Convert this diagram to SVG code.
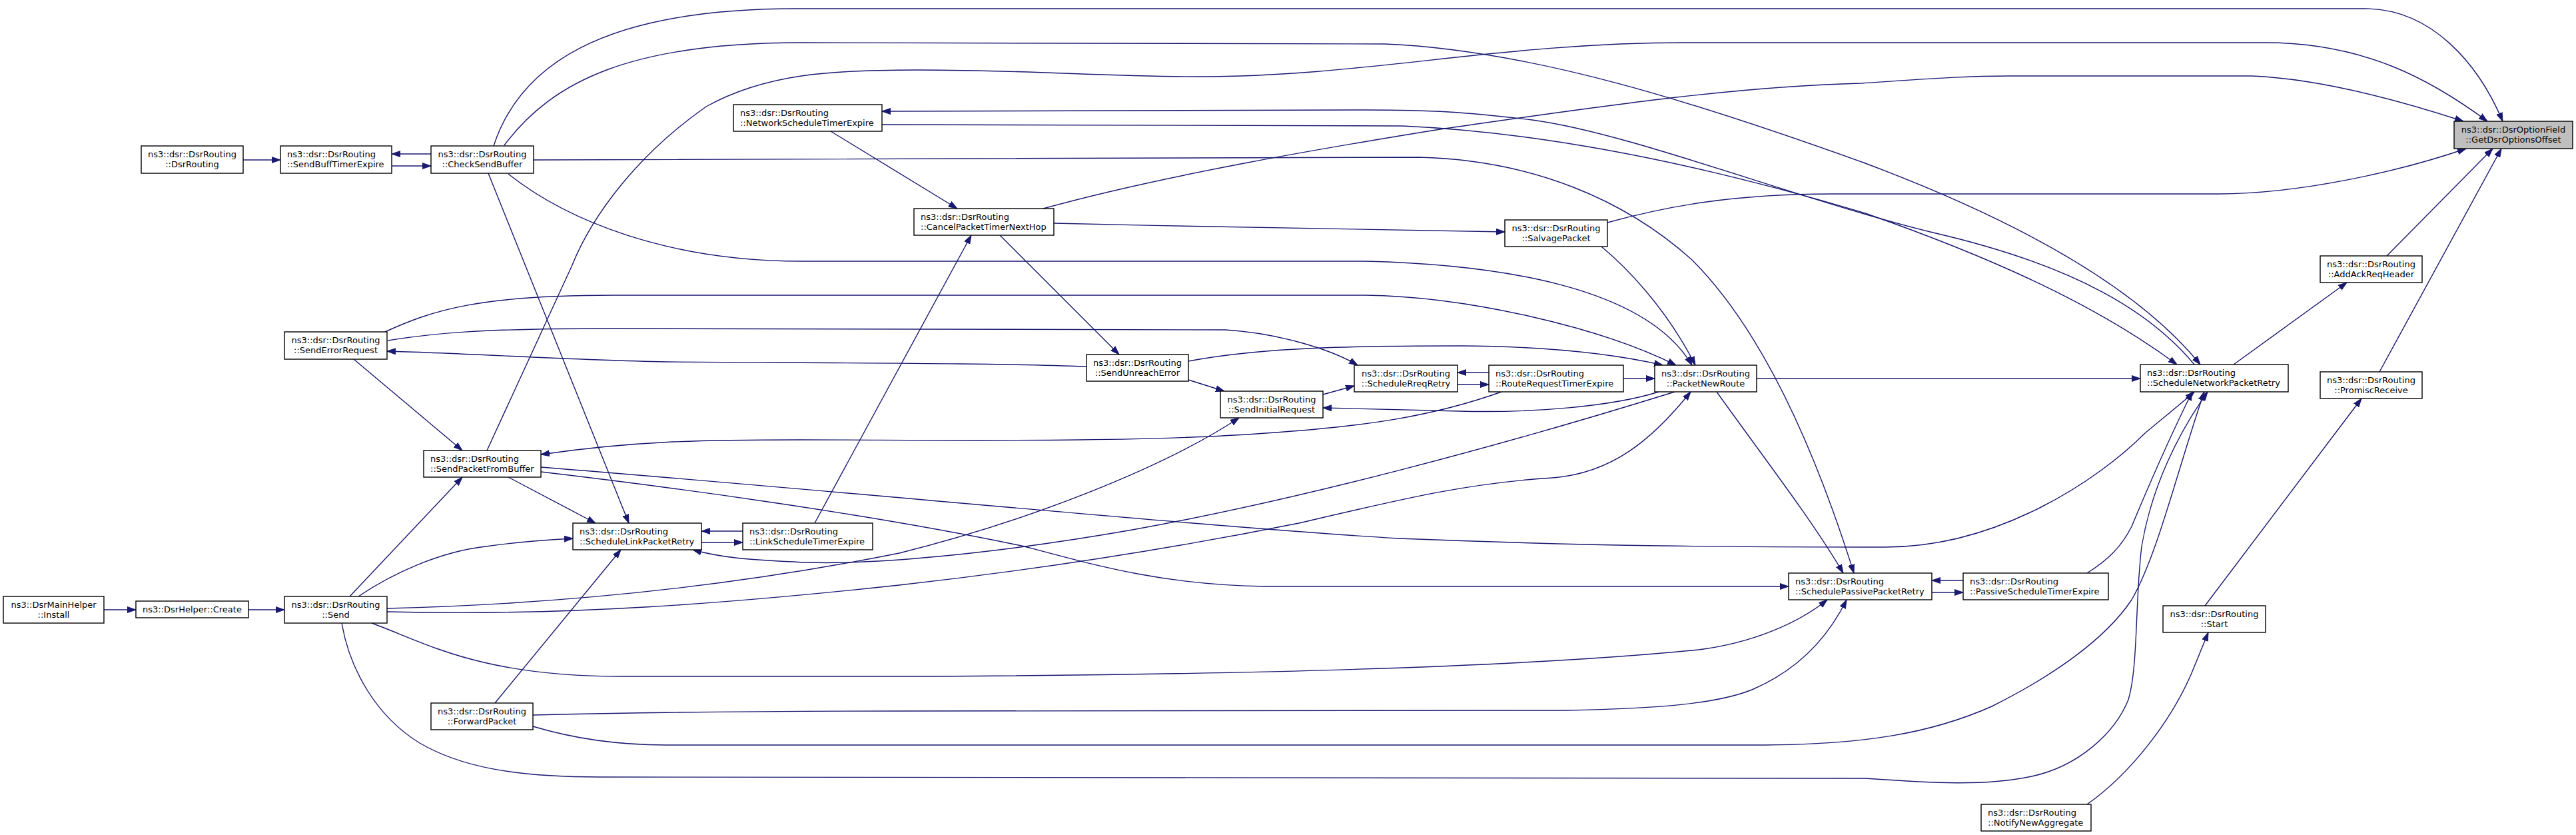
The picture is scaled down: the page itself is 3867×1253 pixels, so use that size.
<svg xmlns="http://www.w3.org/2000/svg" width="3867" height="1253" viewBox="0 0 3867 1253">
<style>
.nd rect{fill:#ffffff;stroke:#000000;stroke-width:1.4}
.nd.root rect{fill:#bfbfbf}
.nd text{font-family:"DejaVu Sans","Liberation Sans",sans-serif;font-size:13px;fill:#000000}
.c{text-anchor:middle}
.l{text-anchor:start}
#edges path{fill:none;stroke:#191970;stroke-width:1.4;marker-end:url(#ah)}
</style>
<defs>
<marker id="ah" viewBox="0 0 14 10" refX="13" refY="5" markerWidth="14" markerHeight="10" markerUnits="userSpaceOnUse" orient="auto">
<path d="M0,0.5 L13,5 L0,9.5 z" fill="#191970" stroke="#191970" stroke-width="1"/>
</marker>
</defs>
<rect width="3867" height="1253" fill="#ffffff"/>
<g id="edges">
<!-- into root -->
<path d="M741,219 C780,100 900,13 1196,13 L3550,13 C3650,13 3720,95 3757,182"/>
<path d="M731,676 L858,400 C890,320 960,230 1060,160 C1150,110 1250,105 1377,105 C1550,105 1650,115 1800,115 C2050,115 2250,64 2530,64 L3400,64 C3550,64 3650,120 3734,182"/>
<path d="M1566,313 C1750,262 2000,220 2168,193 C2400,160 2600,130 2793,125 C2900,118 2950,114 3016,114 L3380,114 C3480,118 3600,150 3698,182"/>
<path d="M2413,334 C2500,310 2600,291 2750,291 L3330,291 C3450,291 3600,258 3702,223"/>
<path d="M3583,384 L3742,223"/>
<path d="M3572,558 L3755,223"/>
<!-- upper right -->
<path d="M3353,547 L3523,424"/>
<path d="M3310,909 L3545,598"/>
<path d="M3133,1207 C3200,1160 3260,1080 3290,1010 L3315,949"/>
<!-- into SNPR -->
<path d="M757,218 C830,120 950,64 1204,64 L2079,66 C2300,75 2550,155 2800,245 C3000,320 3200,420 3303,547"/>
<path d="M1324,187 L2105,189 C2350,200 2600,260 2800,320 C3000,390 3150,460 3268,547"/>
<path d="M3294,547 C3230,470 3120,400 2906,350 C2700,300 2450,200 2300,180 C2200,168 2150,165 2050,165 L1324,167"/>
<path d="M2637,568 L3213,568"/>
<path d="M3133,860 C3165,840 3185,820 3200,790 C3225,730 3260,650 3291,588"/>
<path d="M812,701 C1300,740 1800,790 2100,808 C2400,820 2600,821 2830,821 C3000,821 3150,720 3220,650 C3250,625 3275,605 3294,588"/>
<path d="M800,1090 C850,1105 920,1118 1000,1118 L2650,1118 C2800,1117 2900,1100 2990,1060 C3080,1015 3160,960 3200,900 C3240,830 3270,700 3309,588"/>
<path d="M513,935 C525,1005 565,1075 630,1115 C690,1150 770,1166 900,1166 L2800,1168 C2900,1175 2980,1180 3050,1165 C3120,1150 3175,1100 3195,1050 C3210,1000 3205,900 3215,820 C3230,730 3270,650 3314,588"/>
<!-- SPPR -->
<path d="M2947,871 L2900,871"/>
<path d="M2900,889 L2947,889"/>
<path d="M2577,588 C2650,690 2720,780 2767,860"/>
<path d="M801,240 L2130,236 C2300,240 2440,300 2540,390 C2640,490 2720,660 2783,860"/>
<path d="M812,708 C1000,730 1300,770 1538,820 C1650,850 1750,878 1900,880 L2685,880"/>
<path d="M558,935 C640,965 720,1015 933,1015 L1400,1015 C1900,1012 2300,1000 2550,975 C2630,965 2700,935 2743,900"/>
<path d="M800,1073 C1000,1068 1200,1067 1350,1067 L2350,1066 C2500,1063 2580,1055 2630,1035 C2700,1005 2745,955 2772,900"/>
<!-- PacketNewRoute -->
<path d="M2235,559 L2188,559"/>
<path d="M2188,577 L2235,577"/>
<path d="M2437,568 L2484,568"/>
<path d="M2404,370 C2440,400 2500,460 2545,548"/>
<path d="M763,261 C850,330 1000,392 1204,392 L2050,392 C2250,397 2470,430 2540,548"/>
<path d="M578,498 C650,465 720,443 920,443 L2050,443 C2200,445 2400,490 2516,548"/>
<path d="M1784,542 C1900,520 2050,519 2191,519 C2350,520 2440,535 2496,548"/>
<path d="M581,918 C850,925 1100,905 1350,878 C1600,850 1800,815 1950,785 C2100,750 2200,725 2331,717 C2420,710 2480,660 2538,588"/>
<path d="M2490,588 C2420,610 2300,620 2191,617 C2100,615 2030,613 1986,612"/>
<path d="M2514,588 C2250,670 1950,750 1700,795 C1500,830 1300,850 1191,843 C1120,840 1080,836 1040,825"/>
<!-- middle -->
<path d="M1582,335 C1800,340 2000,344 2259,348"/>
<path d="M1986,592 L2033,579"/>
<path d="M582,511 C650,500 720,493 920,493 L1840,495 C1920,500 2000,525 2038,548"/>
<path d="M1784,570 L1838,587"/>
<path d="M581,913 C900,905 1150,870 1350,830 C1550,780 1750,700 1860,627"/>
<path d="M1631,550 C1500,545 1300,545 1000,543 C850,540 700,530 581,527"/>
<path d="M1501,353 L1680,532"/>
<path d="M1247,197 L1437,313"/>
<path d="M1223,785 L1458,353"/>
<path d="M2254,588 C2150,625 2050,640 1900,650 C1700,665 1400,660 1200,660 C1050,660 950,662 812,682"/>
<!-- left -->
<path d="M1115,797 L1053,797"/>
<path d="M1053,814 L1115,814"/>
<path d="M531,539 L694,676"/>
<path d="M763,716 L894,785"/>
<path d="M733,260 L944,785"/>
<path d="M525,895 L694,716"/>
<path d="M538,895 C590,860 660,828 729,820 C780,813 820,810 860,808"/>
<path d="M743,1055 L932,825"/>
<path d="M365,240 L421,240"/>
<path d="M588,249 L647,249"/>
<path d="M647,231 L588,231"/>
<path d="M156,915 L204,915"/>
<path d="M373,915 L427,915"/>
</g>
<g id="n_root" class="nd root"><rect x="3684" y="182" width="178" height="41"/><text class="c" x="3773" y="199">ns3::dsr::DsrOptionField</text><text class="c" x="3773" y="214">::GetDsrOptionsOffset</text></g>
<g id="n_addack" class="nd"><rect x="3483" y="384" width="153" height="40"/><text class="c" x="3559.5" y="400.5">ns3::dsr::DsrRouting</text><text class="c" x="3559.5" y="415.5">::AddAckReqHeader</text></g>
<g id="n_promisc" class="nd"><rect x="3483" y="558" width="153" height="40"/><text class="c" x="3559.5" y="574.5">ns3::dsr::DsrRouting</text><text class="c" x="3559.5" y="589.5">::PromiscReceive</text></g>
<g id="n_start" class="nd"><rect x="3247" y="909" width="154" height="40"/><text class="c" x="3324" y="925.5">ns3::dsr::DsrRouting</text><text class="c" x="3324" y="940.5">::Start</text></g>
<g id="n_notify" class="nd"><rect x="2974" y="1207" width="165" height="40"/><text class="l" x="2984" y="1223.5">ns3::dsr::DsrRouting</text><text class="l" x="2984" y="1238.5">::NotifyNewAggregate</text></g>
<g id="n_snpr" class="nd"><rect x="3213" y="547" width="222" height="41"/><text class="l" x="3223" y="564">ns3::dsr::DsrRouting</text><text class="l" x="3223" y="579">::ScheduleNetworkPacketRetry</text></g>
<g id="n_pste" class="nd"><rect x="2947" y="860" width="218" height="40"/><text class="l" x="2957" y="876.5">ns3::dsr::DsrRouting</text><text class="l" x="2957" y="891.5">::PassiveScheduleTimerExpire</text></g>
<g id="n_sppr" class="nd"><rect x="2685" y="860" width="215" height="40"/><text class="l" x="2695" y="876.5">ns3::dsr::DsrRouting</text><text class="l" x="2695" y="891.5">::SchedulePassivePacketRetry</text></g>
<g id="n_pnr" class="nd"><rect x="2484" y="548" width="153" height="40"/><text class="c" x="2560.5" y="564.5">ns3::dsr::DsrRouting</text><text class="c" x="2560.5" y="579.5">::PacketNewRoute</text></g>
<g id="n_rrte" class="nd"><rect x="2235" y="548" width="202" height="40"/><text class="l" x="2245" y="564.5">ns3::dsr::DsrRouting</text><text class="l" x="2245" y="579.5">::RouteRequestTimerExpire</text></g>
<g id="n_srr" class="nd"><rect x="2033" y="548" width="155" height="40"/><text class="c" x="2110.5" y="564.5">ns3::dsr::DsrRouting</text><text class="c" x="2110.5" y="579.5">::ScheduleRreqRetry</text></g>
<g id="n_salvage" class="nd"><rect x="2259" y="330" width="154" height="40"/><text class="c" x="2336" y="346.5">ns3::dsr::DsrRouting</text><text class="c" x="2336" y="361.5">::SalvagePacket</text></g>
<g id="n_sir" class="nd"><rect x="1832" y="587" width="154" height="40"/><text class="c" x="1909" y="603.5">ns3::dsr::DsrRouting</text><text class="c" x="1909" y="618.5">::SendInitialRequest</text></g>
<g id="n_sue" class="nd"><rect x="1631" y="532" width="153" height="40"/><text class="c" x="1707.5" y="548.5">ns3::dsr::DsrRouting</text><text class="c" x="1707.5" y="563.5">::SendUnreachError</text></g>
<g id="n_cptnh" class="nd"><rect x="1372" y="313" width="210" height="40"/><text class="l" x="1382" y="329.5">ns3::dsr::DsrRouting</text><text class="l" x="1382" y="344.5">::CancelPacketTimerNextHop</text></g>
<g id="n_nste" class="nd"><rect x="1101" y="157" width="223" height="40"/><text class="l" x="1111" y="173.5">ns3::dsr::DsrRouting</text><text class="l" x="1111" y="188.5">::NetworkScheduleTimerExpire</text></g>
<g id="n_lste" class="nd"><rect x="1115" y="785" width="195" height="40"/><text class="l" x="1125" y="801.5">ns3::dsr::DsrRouting</text><text class="l" x="1125" y="816.5">::LinkScheduleTimerExpire</text></g>
<g id="n_slpr" class="nd"><rect x="860" y="785" width="193" height="40"/><text class="l" x="870" y="801.5">ns3::dsr::DsrRouting</text><text class="l" x="870" y="816.5">::ScheduleLinkPacketRetry</text></g>
<g id="n_spfb" class="nd"><rect x="636" y="676" width="176" height="40"/><text class="l" x="646" y="692.5">ns3::dsr::DsrRouting</text><text class="l" x="646" y="707.5">::SendPacketFromBuffer</text></g>
<g id="n_ser" class="nd"><rect x="427" y="498" width="154" height="41"/><text class="c" x="504" y="515">ns3::dsr::DsrRouting</text><text class="c" x="504" y="530">::SendErrorRequest</text></g>
<g id="n_csb" class="nd"><rect x="647" y="219" width="154" height="41"/><text class="c" x="724" y="236">ns3::dsr::DsrRouting</text><text class="c" x="724" y="251">::CheckSendBuffer</text></g>
<g id="n_fp" class="nd"><rect x="647" y="1055" width="153" height="40"/><text class="c" x="723.5" y="1071.5">ns3::dsr::DsrRouting</text><text class="c" x="723.5" y="1086.5">::ForwardPacket</text></g>
<g id="n_sbte" class="nd"><rect x="421" y="219" width="167" height="41"/><text class="l" x="431" y="236">ns3::dsr::DsrRouting</text><text class="l" x="431" y="251">::SendBuffTimerExpire</text></g>
<g id="n_ctor" class="nd"><rect x="212" y="219" width="153" height="41"/><text class="c" x="288.5" y="236">ns3::dsr::DsrRouting</text><text class="c" x="288.5" y="251">::DsrRouting</text></g>
<g id="n_send" class="nd"><rect x="427" y="895" width="154" height="40"/><text class="c" x="504" y="911.5">ns3::dsr::DsrRouting</text><text class="c" x="504" y="926.5">::Send</text></g>
<g id="n_create" class="nd"><rect x="204" y="902" width="169" height="25"/><text class="c" x="288.5" y="919">ns3::DsrHelper::Create</text></g>
<g id="n_install" class="nd"><rect x="5" y="895" width="151" height="40"/><text class="c" x="80.5" y="911.5">ns3::DsrMainHelper</text><text class="c" x="80.5" y="926.5">::Install</text></g>
</svg>
